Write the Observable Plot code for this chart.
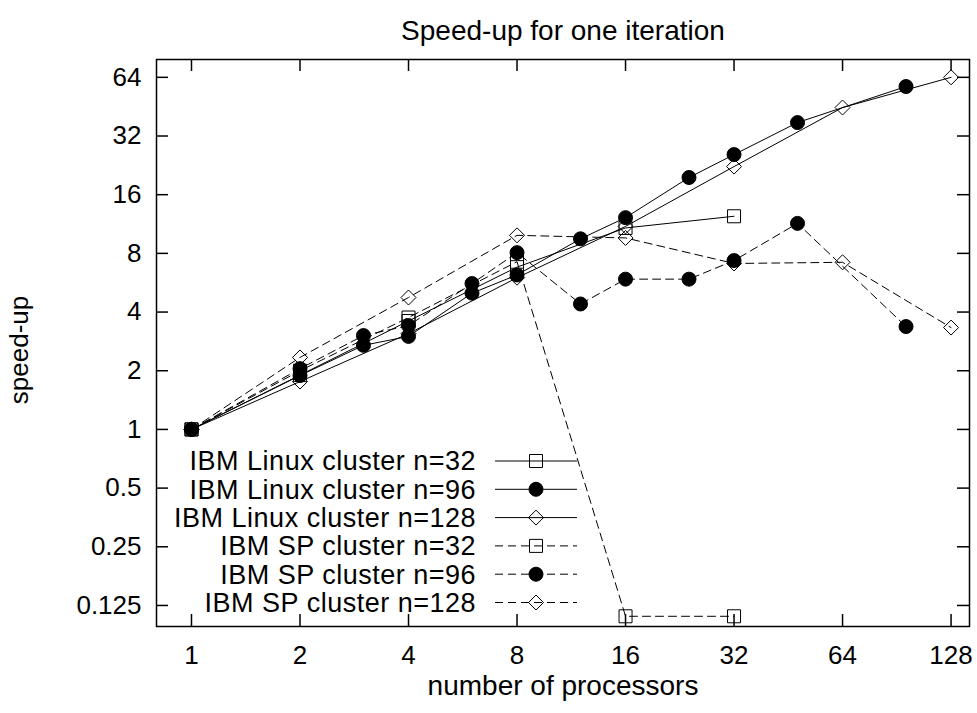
<!DOCTYPE html>
<html><head><meta charset="utf-8">
<script src="https://cdn.jsdelivr.net/npm/d3@7"></script>
<script src="https://cdn.jsdelivr.net/npm/@observablehq/plot@0.6"></script>
<style>
body{margin:0;background:#fff;}
#wrap{position:relative;width:977px;height:713px;font-family:"Liberation Sans",Arial,sans-serif;color:#000;}
.lbl{position:absolute;white-space:nowrap;line-height:1;}
</style></head>
<body><div id="wrap"></div>
<script>
// ---- data ----
const titleText = "Speed-up for one iteration";
const xLabel = "number of processors";
const yLabel = "speed-up";
const xTicks = [1, 2, 4, 8, 16, 32, 64, 128];
const yTicks = [0.125, 0.25, 0.5, 1, 2, 4, 8, 16, 32, 64];
const yTickLabels = ["0.125", "0.25", "0.5", "1", "2", "4", "8", "16", "32", "64"];

const procs32 = [1, 2, 4, 8, 16, 32];
const procs96 = [1, 2, 3, 4, 6, 8, 12, 16, 24, 32, 48, 96];
const procs128 = [1, 2, 4, 8, 16, 32, 64, 128];

const linux32 = [1, 1.9, 3.6, 6.8, 10.8, 12.4];
const linux96 = [1, 1.89, 2.7, 3.0, 5.0, 6.2, 9.5, 12.2, 19.6, 25.7, 37.5, 57.4];
const linux128 = [1, 1.76, 3.1, 6.0, 11.0, 22.3, 44.8, 64];
const sp32 = [1, 2.0, 3.75, 7.25, 0.11, 0.11];
const sp96 = [1, 2.05, 3.03, 3.41, 5.6, 8.07, 4.4, 5.9, 5.9, 7.35, 11.4, 3.37];
const sp128 = [1, 2.34, 4.75, 9.9, 9.6, 7.1, 7.2, 3.33];

const seriesNames = ["IBM Linux cluster n=32", "IBM Linux cluster n=96", "IBM Linux cluster n=128",
                     "IBM SP cluster n=32", "IBM SP cluster n=96", "IBM SP cluster n=128"];

// ---- symbols ----
const sqSym = {draw(c){const h=6.5;c.moveTo(-h,-h);c.lineTo(h,-h);c.lineTo(h,h);c.lineTo(-h,h);c.closePath();}};
const dmSym = {draw(c){const h=7.5;c.moveTo(0,-h);c.lineTo(h,0);c.lineTo(0,h);c.lineTo(-h,0);c.closePath();}};
const ciSym = {draw(c){const r=7;c.moveTo(r,0);c.arc(0,0,r,0,2*Math.PI);c.closePath();}};

const series = [
  {name: seriesNames[0], xs: procs32,  ys: linux32,  sym: sqSym, fill: "none",  dash: null},
  {name: seriesNames[1], xs: procs96,  ys: linux96,  sym: ciSym, fill: "black", dash: null},
  {name: seriesNames[2], xs: procs128, ys: linux128, sym: dmSym, fill: "none",  dash: null},
  {name: seriesNames[3], xs: procs32,  ys: sp32,     sym: sqSym, fill: "none",  dash: "8,5"},
  {name: seriesNames[4], xs: procs96,  ys: sp96,     sym: ciSym, fill: "black", dash: "8,5"},
  {name: seriesNames[5], xs: procs128, ys: sp128,    sym: dmSym, fill: "none",  dash: "8,5"}
];

const W = 977, H = 713;
const mL = 156, mR = 8, mT = 59, mB = 87;
const pW = W - mL - mR, pH = H - mT - mB;
const tick = 12;

const marks = [];
for (const s of series) {
  const data = s.xs.map((x, i) => ({x, y: s.ys[i]}));
  marks.push(Plot.line(data, {x: "x", y: "y", stroke: "black", strokeWidth: 1, strokeDasharray: s.dash || undefined}));
}
for (const s of series) {
  const data = s.xs.map((x, i) => ({x, y: s.ys[i]}));
  marks.push(Plot.dot(data, {x: "x", y: "y", symbol: s.sym, r: 5, fill: s.fill, stroke: "black", strokeWidth: 1}));
}

const chart = Plot.plot({
  width: W, height: H,
  marginLeft: mL, marginRight: mR, marginTop: mT, marginBottom: mB,
  style: {fontFamily: "Liberation Sans, Arial, sans-serif", fontSize: "26px", background: "white", color: "black"},
  x: {type: "log", base: 2, domain: [0.7997, 144]},
  y: {type: "log", base: 2, domain: [0.0975, 79]},
  marks: [
    Plot.axisX(xTicks, {tickSize: 0, tickPadding: 19, tickFormat: d => String(d), label: null, fontSize: 26}),
    Plot.axisY(yTicks, {tickSize: 0, tickPadding: 15, tickFormat: d => yTickLabels[yTicks.indexOf(d)], label: null, fontSize: 26}),
    Plot.tickX(xTicks, {x: d => d, insetTop: pH - tick, stroke: "black", strokeWidth: 1.5}),
    Plot.tickX(xTicks, {x: d => d, insetBottom: pH - tick, stroke: "black", strokeWidth: 1.5}),
    Plot.tickY(yTicks, {y: d => d, insetLeft: pW - tick, stroke: "black", strokeWidth: 1.5}),
    Plot.tickY(yTicks, {y: d => d, insetRight: pW - tick, stroke: "black", strokeWidth: 1.5}),
    ...marks,
    Plot.frame({stroke: "black", strokeWidth: 1.5})
  ]
});

const wrap = document.getElementById("wrap");
chart.style.position = "absolute";
chart.style.left = "0px";
chart.style.top = "0px";
wrap.appendChild(chart);

function addLabel(text, cx, cy, size, rotate) {
  const d = document.createElement("div");
  d.className = "lbl";
  d.textContent = text;
  d.style.fontSize = size + "px";
  d.style.left = cx + "px";
  d.style.top = cy + "px";
  d.style.transform = "translate(-50%,-50%)" + (rotate ? " rotate(-90deg)" : "");
  wrap.appendChild(d);
}
addLabel(titleText, 563, 31, 28, false);
addLabel(xLabel, 563, 686, 28, false);
addLabel(yLabel, 19, 350, 26, true);

// ---- legend (inside plot, bottom-left) ----
const leg = d3.select(wrap).append("svg")
  .attr("width", W).attr("height", H)
  .style("position", "absolute").style("left", "0px").style("top", "0px")
  .style("pointer-events", "none");
const rowY0 = 461, rowStep = 28.3;
series.forEach((s, i) => {
  const y = rowY0 + i * rowStep;
  leg.append("text").attr("x", 476).attr("y", y).attr("dy", "0.35em")
    .attr("text-anchor", "end")
    .style("font-family", "Liberation Sans, Arial, sans-serif").style("font-size", "27px")
    .style("letter-spacing", "0.5px")
    .text(s.name);
  leg.append("line").attr("x1", 495).attr("x2", 577).attr("y1", y).attr("y2", y)
    .attr("stroke", "black").attr("stroke-width", 1)
    .attr("stroke-dasharray", s.dash || null);
  leg.append("path").attr("transform", `translate(536,${y})`)
    .attr("d", d3.symbol(s.sym)())
    .attr("fill", s.fill).attr("stroke", "black").attr("stroke-width", 1);
});
</script>
</body></html>
